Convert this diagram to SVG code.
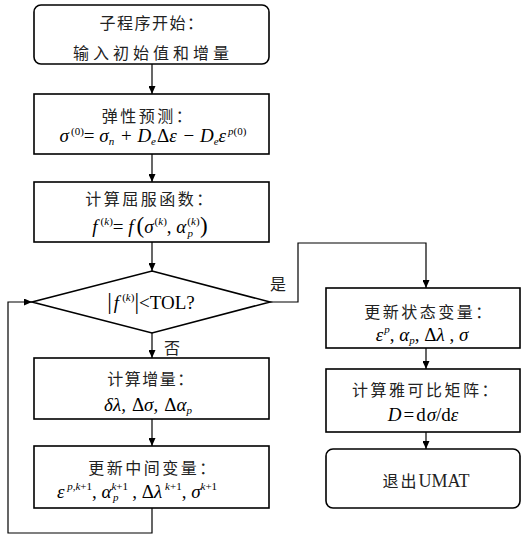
<svg xmlns="http://www.w3.org/2000/svg" width="522" height="536" viewBox="0 0 522 536">
<style>
.box{fill:#fff;stroke:#000;stroke-width:1.6}
.ln{fill:none;stroke:#000;stroke-width:1.2}
.cn{font-family:"Noto Sans CJK SC","Noto Sans CJK JP",sans-serif;font-size:16px;fill:#222;text-anchor:middle}
.m{font-family:"Liberation Serif","Times New Roman",serif;font-size:19px;fill:#000;text-anchor:middle}
.i{font-style:italic}
.s{font-size:11px}
.big{font-size:23px}
</style>
<defs>
<marker id="ah" markerWidth="8" markerHeight="7" refX="8" refY="3.5" orient="auto" markerUnits="userSpaceOnUse">
<path d="M0,0 L8,3.5 L0,7 z" fill="#000"/>
</marker>
</defs>
<g id="connectors">
<line class="ln" x1="152" y1="64" x2="152" y2="94" marker-end="url(#ah)"/>
<line class="ln" x1="152" y1="154" x2="152" y2="182" marker-end="url(#ah)"/>
<line class="ln" x1="152" y1="242" x2="152" y2="271" marker-end="url(#ah)"/>
<line class="ln" x1="152" y1="333" x2="152" y2="358" marker-end="url(#ah)"/>
<line class="ln" x1="152" y1="419" x2="152" y2="446" marker-end="url(#ah)"/>
<polyline class="ln" points="152,508 152,533 8,533 8,302 32,302" marker-end="url(#ah)"/>
<polyline class="ln" points="270,302 298,302 298,243 426,243 426,288" marker-end="url(#ah)"/>
<line class="ln" x1="426" y1="348" x2="426" y2="369" marker-end="url(#ah)"/>
<line class="ln" x1="426" y1="432" x2="426" y2="449" marker-end="url(#ah)"/>
<text class="cn" x="278" y="290">是</text>
<text class="cn" x="172" y="354">否</text>
</g>
<g id="start">
<rect class="box" x="34" y="5" width="235" height="59" rx="7"/>
<text class="cn" x="152" y="29" letter-spacing="1.5">子程序开始：</text>
<text class="cn" x="153" y="59" letter-spacing="4">输入初始值和增量</text>
</g>
<g id="elastic">
<rect class="box" x="34" y="94" width="235" height="60"/>
<text class="cn" x="148" y="122" letter-spacing="2.5">弹性预测：</text>
<text class="m" x="153" y="142"><tspan class="i">σ</tspan><tspan class="s" dx="2" dy="-7">(0)</tspan><tspan dy="7">= </tspan><tspan class="i">σ</tspan><tspan class="s i" dy="3">n</tspan><tspan dx="2" dy="-3"> + </tspan><tspan class="i" dx="1">D</tspan><tspan class="s i" dy="3">e</tspan><tspan dx="1" dy="-3">Δ</tspan><tspan class="i">ε</tspan><tspan dx="2"> − </tspan><tspan class="i" dx="1">D</tspan><tspan class="s i" dy="3">e</tspan><tspan class="i" dy="-3">ε</tspan><tspan class="s" dx="2" dy="-7"><tspan class="i">p</tspan>(0)</tspan></text>
</g>
<g id="yield">
<rect class="box" x="34" y="182" width="235" height="60"/>
<text class="cn" x="150" y="205" letter-spacing="2.5">计算屈服函数：</text>
<text class="m" x="150" y="233"><tspan class="i">f</tspan><tspan class="s" dx="3" dy="-8">(<tspan class="i">k</tspan>)</tspan><tspan dy="8">= </tspan><tspan class="i">f</tspan><tspan class="big" dx="3">(</tspan><tspan class="i">σ</tspan><tspan class="s" dx="1" dy="-8">(<tspan class="i">k</tspan>)</tspan><tspan dy="8">, </tspan><tspan class="i">α</tspan><tspan class="s" dx="1" dy="-8">(<tspan class="i">k</tspan>)</tspan><tspan class="s i" dx="-12" dy="12">p</tspan><tspan class="big" dx="7" dy="-4">)</tspan></text>
</g>
<g id="check">
<polygon class="box" points="152,271 270,302 152,333 32,302"/>
<text class="m" x="151" y="309"><tspan class="big" font-size="24">|</tspan><tspan class="i" dx="2">f</tspan><tspan class="s" dx="3" dy="-8">(<tspan class="i">k</tspan>)</tspan><tspan class="big" font-size="24" dy="8">|</tspan><tspan>&lt;TOL?</tspan></text>
</g>
<g id="increment">
<rect class="box" x="34" y="358" width="235" height="61"/>
<text class="cn" x="151" y="385" letter-spacing="1.5">计算增量：</text>
<text class="m" x="148" y="411"><tspan class="i">δλ</tspan>,<tspan dx="6">Δ</tspan><tspan class="i">σ</tspan>,<tspan dx="6">Δ</tspan><tspan class="i">α</tspan><tspan class="s i" dy="3">p</tspan></text>
</g>
<g id="update-mid">
<rect class="box" x="34" y="446" width="235" height="62"/>
<text class="cn" x="153" y="474" letter-spacing="2.5">更新中间变量：</text>
<text class="m" x="137" y="498"><tspan class="i">ε</tspan><tspan class="s" dy="-8"><tspan class="i"> p</tspan>,<tspan class="i">k</tspan>+1</tspan><tspan dy="8">, </tspan><tspan class="i">α</tspan><tspan class="s" dy="-8"><tspan class="i">k</tspan>+1</tspan><tspan class="s i" dx="-15" dy="11">p</tspan><tspan dx="9" dy="-3"> , Δ</tspan><tspan class="i">λ</tspan><tspan class="s" dy="-8"> <tspan class="i">k</tspan>+1</tspan><tspan dy="8">, </tspan><tspan class="i">σ</tspan><tspan class="s" dy="-8"><tspan class="i">k</tspan>+1</tspan></text>
</g>
<g id="update-state">
<rect class="box" x="326" y="288" width="194" height="60"/>
<text class="cn" x="429" y="318" letter-spacing="2.5">更新状态变量：</text>
<text class="m" x="422" y="341"><tspan class="i">ε</tspan><tspan class="s i" dx="1" dy="-8">p</tspan><tspan dy="8">, </tspan><tspan class="i">α</tspan><tspan class="s i" dy="3">p</tspan><tspan dy="-3">, Δ</tspan><tspan class="i">λ</tspan> , <tspan class="i">σ</tspan></text>
</g>
<g id="jacobian">
<rect class="box" x="326" y="369" width="194" height="63"/>
<text class="cn" x="426" y="396" letter-spacing="2.5">计算雅可比矩阵：</text>
<text class="m" x="423" y="421"><tspan class="i">D</tspan><tspan dx="2">=</tspan><tspan dx="2">d</tspan><tspan class="i" dx="1">σ</tspan>/d<tspan class="i">ε</tspan></text>
</g>
<g id="exit">
<rect class="box" x="326" y="449" width="194" height="59" rx="7"/>
<text class="cn" x="426" y="487"><tspan letter-spacing="2">退出</tspan><tspan font-family="Liberation Serif,serif" font-size="18">UMAT</tspan></text>
</g>
</svg>
